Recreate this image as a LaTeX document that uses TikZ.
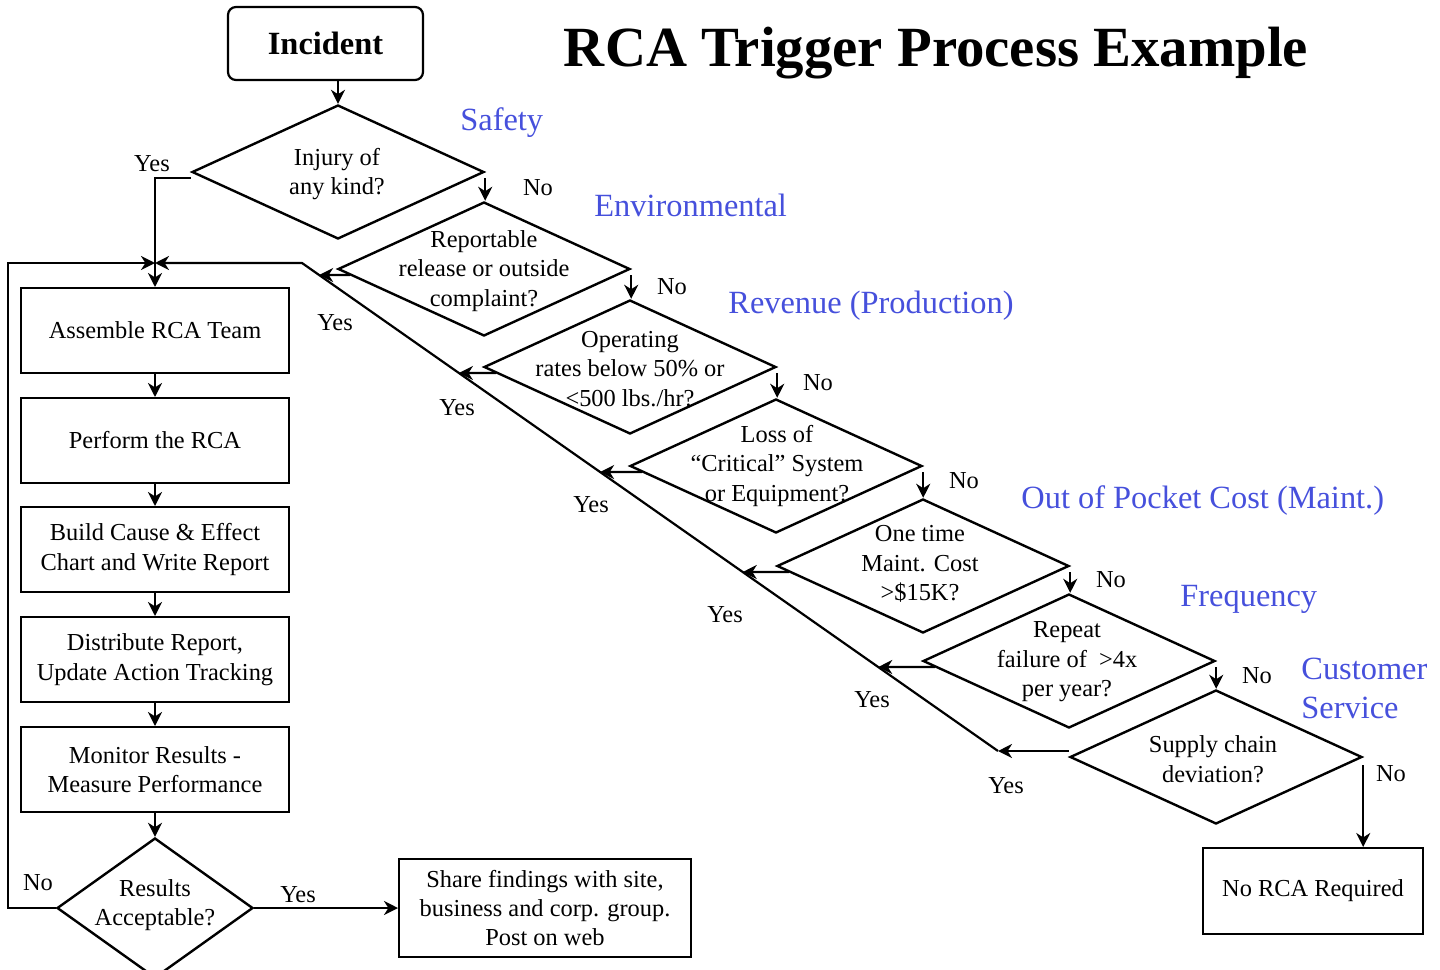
\documentclass[tikz,border=0pt]{standalone}
\usepackage{fontspec}
\setmainfont{Liberation Serif}
\usetikzlibrary{shapes.geometric,arrows.meta,calc}
\definecolor{catblue}{RGB}{70,80,220}
\begin{document}
\begin{tikzpicture}[x=0.5pt,y=-0.5pt,
  base/.style={font=\fontsize{12.2}{14.7}\selectfont},
  box/.style={draw, line width=1pt, minimum width=134pt, minimum height=42.5pt, align=center, inner sep=0pt, base},
  dia/.style={draw, diamond, line width=1.2pt, minimum width=146pt, minimum height=67pt, inner sep=0pt},
  dtext/.style={align=center, base, inner sep=0pt},
  lbl/.style={base, inner sep=0pt},
  cat/.style={font=\fontsize{16.2}{19.5}\selectfont, text=catblue, anchor=base west, inner sep=0pt},
  arr/.style={line width=1.1pt, -{Stealth[length=7pt,width=7pt,inset=2.2pt]}},
  ln/.style={line width=1.1pt}]
\useasboundingbox (0,0) rectangle (1440,969);

% title and start
\node[font=\fontsize{28.4}{32}\selectfont\bfseries, anchor=base, inner sep=0pt] (title) at (936,66) {RCA Trigger Process Example};
\node[draw, line width=1.1pt, rounded corners=4pt, minimum width=97.5pt, minimum height=36.5pt, inner sep=0pt,
      font=\fontsize{16.2}{19}\selectfont\bfseries] (inc) at (325.5,43.5) {Incident};

% decision diamonds
\node[dia] (d1) at (338,172) {};
\node[dia] (d2) at (484,269) {};
\node[dia] (d3) at (630,367) {};
\node[dia] (d4) at (776,466) {};
\node[dia] (d5) at (923,566) {};
\node[dia] (d6) at (1069,661) {};
\node[dia] (d7) at (1216,757) {};

\node[dtext] (t1) at (337,174) {Injury of\\any kind?};
\node[dtext] (t2) at (484,271) {Reportable\\release or outside\\complaint?};
\node[dtext] (t3) at (630,369) {Operating\\rates below 50\% or\\<500 lbs./hr?};
\node[dtext] (t4) at (777,466) {Loss of\\“Critical” System\\or Equipment?};
\node[dtext] (t5) at (920,564) {One time\\Maint. Cost\\>\$15K?};
\node[dtext] (t6) at (1067,662) {Repeat\\failure of~ >4x\\per year?};
\node[dtext] (t7) at (1213,759) {Supply chain\\deviation?};

% category labels
\node[cat] (c1) at (460,130) {Safety};
\node[cat] (c2) at (594,216) {Environmental};
\node[cat] (c3) at (728,313) {Revenue (Production)};
\node[cat] (c4) at (1021,508) {Out of Pocket Cost (Maint.)};
\node[cat] (c5) at (1180,606) {Frequency};
\node[cat] (c6) at (1301,679) {Customer};
\node[cat] (c7) at (1301,718) {Service};

% RCA process boxes
\node[box] (b1) at (155,330.5) {Assemble RCA Team};
\node[box] (b2) at (155,440.5) {Perform the RCA};
\node[box] (b3) at (155,549.5) {Build Cause \& Effect\\Chart and Write Report};
\node[box] (b4) at (155,659.5) {Distribute Report,\\Update Action Tracking};
\node[box] (b5) at (155,769.5) {Monitor Results -\\Measure Performance};
\node[dia, minimum width=98pt, minimum height=70pt] (r) at (155,908) {};
\node[dtext] (rt) at (155,905) {Results\\Acceptable?};
\node[box, minimum width=146pt, minimum height=49pt] (sh) at (545,908) {Share findings with site,\\business and corp. group.\\Post on web};
\node[box, minimum width=110pt, minimum height=43pt] (nr) at (1313,891) {No RCA Required};

% connectors
\draw[arr] (inc.south -| d1.north) -- (d1.north);
\foreach \i/\j in {1/2,2/3,3/4,4/5,5/6,6/7}
  \draw[arr] ($(d\i.east)+(0,6)$) -- (d\i.east |- d\j.north);
\draw[arr] ($(d7.east)+(0,8)$) -- (d7.east |- nr.north);

\coordinate (J) at (155,263);
\coordinate (LT) at (8,263);
\coordinate (L1) at (302,263);
\coordinate (L2) at (998,751);
\draw[arr] ($(d1.west)+(0,6)$) -| (b1.north);
\draw[arr] (L2) -- (L1) -- (J);
\draw[arr] (r.west) -| (LT) -- (J);
\foreach \i in {2,...,6} {
  \coordinate (ys\i) at ($(d\i.west)+(13,6)$);
  \coordinate (ye\i) at ($(d\i.west)+(-400,6)$);
  \draw[arr] (ys\i) -- (intersection of L1--L2 and ys\i--ye\i);
}
\draw[arr] ($(d7.west)+(0,-6)$) -- (L2);

\draw[arr] (b1) -- (b2);
\draw[arr] (b2) -- (b3);
\draw[arr] (b3) -- (b4);
\draw[arr] (b4) -- (b5);
\draw[arr] (b5) -- (r);
\draw[arr] (r.east) -- (sh.west);

% Yes / No labels
\node[lbl] (y1) at (152,164) {Yes};
\node[lbl] (y2) at (335,323) {Yes};
\node[lbl] (y3) at (457,408) {Yes};
\node[lbl] (y4) at (591,505) {Yes};
\node[lbl] (y5) at (725,615) {Yes};
\node[lbl] (y6) at (872,700) {Yes};
\node[lbl] (y7) at (1006,786) {Yes};
\node[lbl] (y8) at (298,895) {Yes};
\node[lbl] (n1) at (538,188) {No};
\node[lbl] (n2) at (672,287) {No};
\node[lbl] (n3) at (818,383) {No};
\node[lbl] (n4) at (964,481) {No};
\node[lbl] (n5) at (1111,580) {No};
\node[lbl] (n6) at (1257,676) {No};
\node[lbl] (n7) at (1391,774) {No};
\node[lbl] (n8) at (38,883) {No};
\end{tikzpicture}
\end{document}
